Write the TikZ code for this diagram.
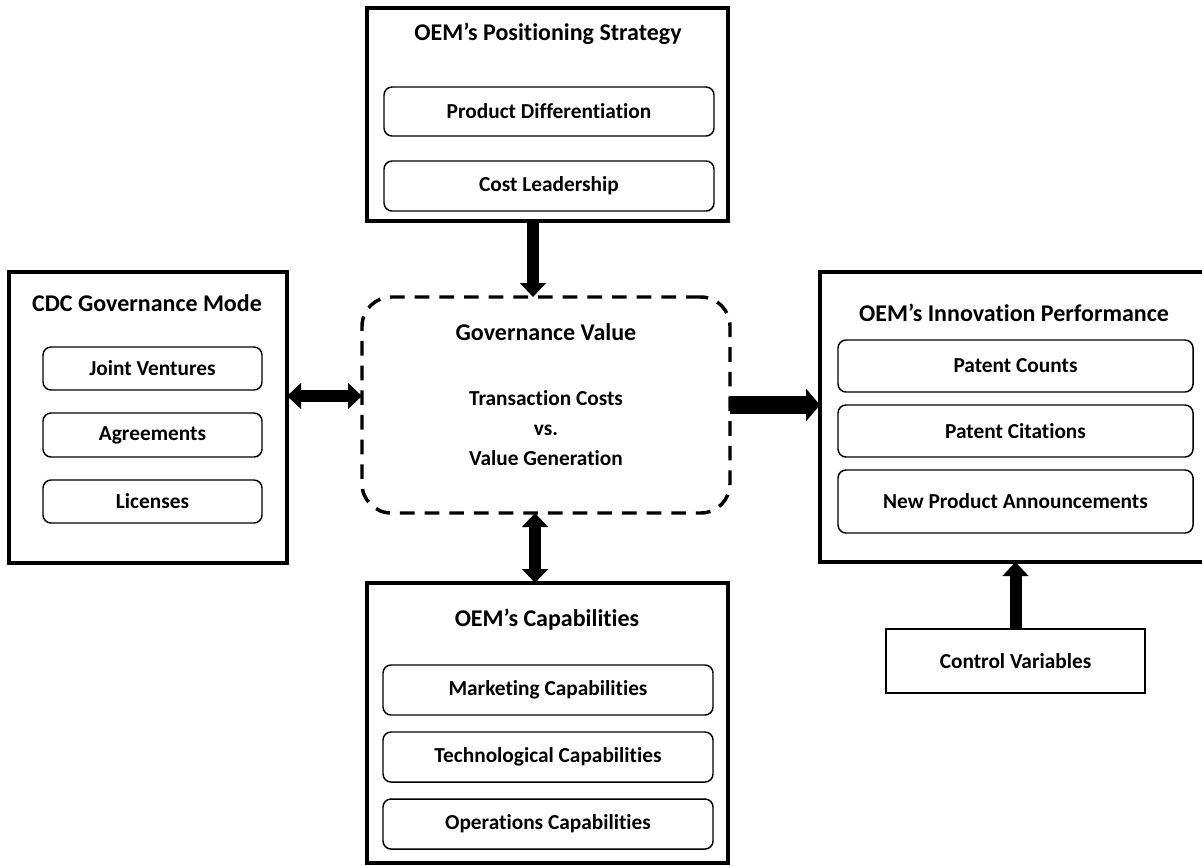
\documentclass[tikz,border=0pt]{standalone}
\usepackage{fontspec}
\setmainfont{Carlito}[Ligatures={TeX,NoCommon},RawFeature={-liga}]
\usetikzlibrary{arrows.meta}
\tikzset{
  outerbox/.style={draw, line width=3pt, inner sep=0pt, outer sep=0pt},
  subbox/.style={draw, line width=1.1pt, rounded corners=6pt, inner sep=0pt, outer sep=0pt,
    font=\fontsize{16}{19}\selectfont\bfseries},
  ctrlbox/.style={draw, line width=1.1pt, inner sep=0pt, outer sep=0pt,
    font=\fontsize{16}{19}\selectfont\bfseries},
  govbox/.style={draw, line width=2.6pt, dash pattern=on 11pt off 7.5pt, rounded corners=22pt,
    inner sep=0pt, outer sep=0pt},
  titletext/.style={font=\fontsize{18}{22}\selectfont\bfseries, inner sep=0pt},
  bodytext/.style={font=\fontsize{16}{22.5}\selectfont\bfseries, inner sep=0pt, align=center},
  arr/.style={line width=9pt, -{Triangle[width=19pt,length=10.5pt]}},
  darr/.style={line width=9pt, {Triangle[width=19pt,length=10.5pt]}-{Triangle[width=19pt,length=10.5pt]}},
  bigarr/.style={line width=13pt, -{Triangle[width=24pt,length=10.5pt]}},
}
\newcommand\pbox[7]{\node[#6, minimum width={(#4-#2)*0.75pt}, minimum height={(#5-#3)*0.75pt}] (#1) at ({(#2+#4)/2},{(#3+#5)/2}) {#7};}
\begin{document}
\begin{tikzpicture}[x=0.75pt, y=-0.75pt]
\clip (0,0) rectangle (1202,865);
\fill[white] (0,0) rectangle (1202,865);

% top box
\pbox{top}{367}{8}{728}{221}{outerbox}{}
\node[titletext] (toptitle) at (548,34) {OEM’s Positioning Strategy};
\pbox{pd}{384}{87}{714}{136}{subbox}{Product Differentiation}
\pbox{cl}{384}{161}{714}{211}{subbox}{Cost Leadership}

% left box
\pbox{left}{9}{272}{287}{563}{outerbox}{}
\node[titletext] (lefttitle) at (147,303) {CDC Governance Mode};
\pbox{jv}{43}{347}{262}{390}{subbox}{Joint Ventures}
\pbox{ag}{43}{413}{262}{457}{subbox}{Agreements}
\pbox{li}{43}{480}{262}{523}{subbox}{Licenses}

% right box
\pbox{right}{820}{272}{1212}{562}{outerbox}{}
\node[titletext] (righttitle) at (1014,313) {OEM’s Innovation Performance};
\pbox{pc}{838}{340}{1193}{392}{subbox}{Patent Counts}
\pbox{pcit}{838}{405}{1193}{457}{subbox}{Patent Citations}
\pbox{npa}{838}{470}{1193}{533}{subbox}{New Product Announcements}

% control box
\pbox{ctrl}{886}{629}{1145}{693}{ctrlbox}{Control Variables}

% bottom box
\pbox{bot}{367}{583}{728}{863}{outerbox}{}
\node[titletext] (bottitle) at (547,620) {OEM’s Capabilities};
\pbox{mc}{383}{665}{713}{715}{subbox}{Marketing Capabilities}
\pbox{tc}{383}{732}{713}{782}{subbox}{Technological Capabilities}
\pbox{oc}{383}{799}{713}{849}{subbox}{Operations Capabilities}

% governance value box
\pbox{gov}{362}{297}{730}{513}{govbox}{}
\node[titletext] (govtitle) at (546,332) {Governance Value};
\node[bodytext] (govbody) at (546,428) {Transaction Costs\\vs.\\Value Generation};

% connectors
\coordinate (ax1) at (533,0);
\coordinate (ax2) at (535,0);
\coordinate (ay1) at (0,396);
\draw[arr] (top.south -| ax1) -- (gov.north -| ax1);
\draw[darr] (left.east |- ay1) -- (gov.west |- ay1);
\draw[bigarr] (gov.east) -- (gov.east -| right.west);
\draw[darr] (gov.south -| ax2) -- (bot.north -| ax2);
\draw[arr] (ctrl.north) -- (ctrl.north |- right.south);
\end{tikzpicture}
\end{document}
